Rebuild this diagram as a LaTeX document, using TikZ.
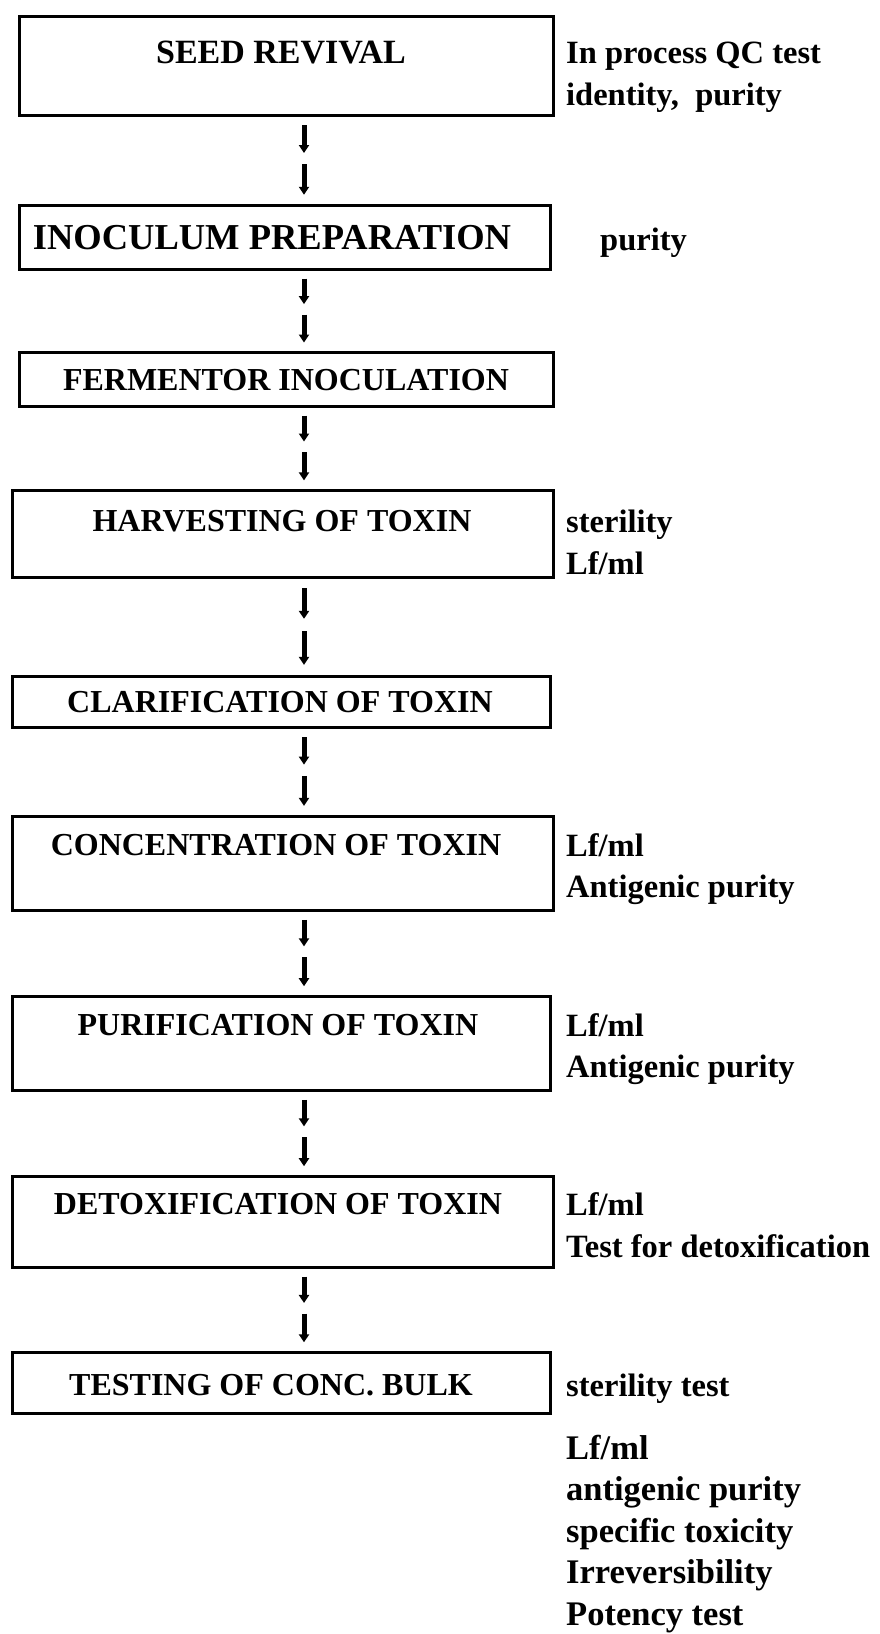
\documentclass[tikz,border=0pt]{standalone}
\usepackage{fontspec}
\setmainfont{Liberation Serif}
\usetikzlibrary{arrows.meta,calc}

\begin{document}
\begin{tikzpicture}[x=1pt,y=-1pt,
  stepbox/.style={draw, line width=3pt, rectangle, inner sep=0pt},
  title/.style={font=\bfseries\fontsize{32}{38}\selectfont, inner sep=0pt, anchor=center},
  qc/.style={font=\bfseries\fontsize{32.5}{38}\selectfont, inner sep=0pt, anchor=base west},
  qcbig/.style={font=\bfseries\fontsize{34.5}{40}\selectfont, inner sep=0pt, anchor=base west},
  flow/.style={line width=5pt, -{Triangle[width=10pt,length=8pt]}}]

\useasboundingbox (0,0) rectangle (880,1634);

% process boxes (centre, size)
\node[stepbox, minimum width=534pt, minimum height=99pt] (b1) at (286,65.5) {};
\node[stepbox, minimum width=531pt, minimum height=64pt] (b2) at (284.5,237) {};
\node[stepbox, minimum width=534pt, minimum height=54pt] (b3) at (286,379) {};
\node[stepbox, minimum width=541pt, minimum height=87pt] (b4) at (282.5,533.5) {};
\node[stepbox, minimum width=538pt, minimum height=51pt] (b5) at (281,701.5) {};
\node[stepbox, minimum width=541pt, minimum height=94pt] (b6) at (282.5,863) {};
\node[stepbox, minimum width=538pt, minimum height=94pt] (b7) at (281,1043) {};
\node[stepbox, minimum width=541pt, minimum height=91pt] (b8) at (282.5,1221.5) {};
\node[stepbox, minimum width=538pt, minimum height=61pt] (b9) at (281,1382.5) {};

% box titles
\node[title, font=\bfseries\fontsize{34}{40}\selectfont] (t1) at (281,52) {SEED REVIVAL};
\node[title, font=\bfseries\fontsize{36.5}{42}\selectfont] (t2) at (272,238) {INOCULUM PREPARATION};
\node[title] (t3) at (286,380) {FERMENTOR INOCULATION};
\node[title] (t4) at (282,521) {HARVESTING OF TOXIN};
\node[title] (t5) at (280,702) {CLARIFICATION OF TOXIN};
\node[title] (t6) at (276,845) {CONCENTRATION OF TOXIN};
\node[title] (t7) at (278,1025) {PURIFICATION OF TOXIN};
\node[title] (t8) at (278,1204) {DETOXIFICATION OF TOXIN};
\node[title] (t9) at (271,1385) {TESTING OF CONC. BULK};

% in-process QC tests
\node[qc] (q1a) at (566,63) {In process QC test};
\node[qc] (q1b) at (566,105) {identity,\ \ purity};
\node[qc] (q2) at (600,250) {purity};
\node[qc] (q4a) at (566,532) {sterility};
\node[qc] (q4b) at (566,574) {Lf/ml};
\node[qc] (q6a) at (566,856) {Lf/ml};
\node[qc] (q6b) at (566,897) {Antigenic purity};
\node[qc] (q7a) at (566,1036) {Lf/ml};
\node[qc] (q7b) at (566,1077) {Antigenic purity};
\node[qc] (q8a) at (566,1215) {Lf/ml};
\node[qc] (q8b) at (566,1257) {Test for detoxification};
\node[qc] (q9) at (566,1396) {sterility test};

% tests on the concentrated bulk
\node[qcbig] (f1) at (566,1459) {Lf/ml};
\node[qcbig] (f2) at (566,1500.5) {antigenic purity};
\node[qcbig] (f3) at (566,1542) {specific toxicity};
\node[qcbig] (f4) at (566,1583.5) {Irreversibility};
\node[qcbig] (f5) at (566,1625) {Potency test};

% broken double arrows between the steps
\coordinate (col) at (304,0);
\foreach \a/\b in {b1/b2,b2/b3,b3/b4,b4/b5,b5/b6,b6/b7,b7/b8,b8/b9}{
  \draw[flow] ($(\a.south -| col)!0.10!(\b.north -| col)$) -- ($(\a.south -| col)!0.42!(\b.north -| col)$);
  \draw[flow] ($(\a.south -| col)!0.55!(\b.north -| col)$) -- ($(\a.south -| col)!0.90!(\b.north -| col)$);
}
\end{tikzpicture}
\end{document}
